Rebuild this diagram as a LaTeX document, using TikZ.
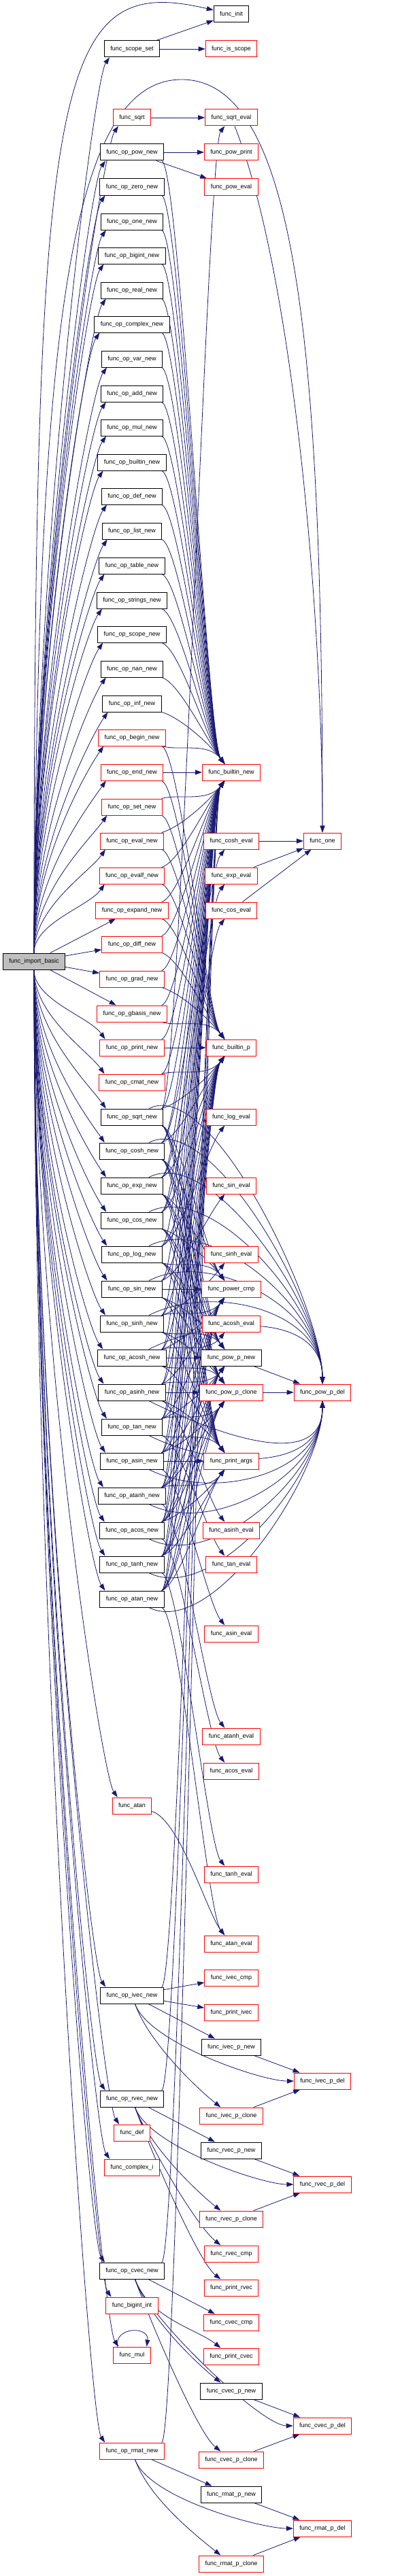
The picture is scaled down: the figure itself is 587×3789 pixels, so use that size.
\documentclass[tikz,border=0pt]{standalone}
\usepackage{fontspec}
\setmainfont{Liberation Sans}
\usetikzlibrary{arrows.meta,backgrounds}
\definecolor{edgeblue}{HTML}{191970}
\definecolor{boxred}{HTML}{FF0000}
\definecolor{rootgray}{HTML}{BFBFBF}
\begin{document}
\begin{tikzpicture}[x=1pt,y=1pt,
	fn/.style={draw=black,fill=white,line width=1pt,minimum height=24pt,inner xsep=9pt,font=\fontsize{9}{11}\selectfont},
	cut/.style={fn,draw=boxred},
	call/.style={draw=edgeblue,line width=0.8pt,-{Triangle[length=10pt,width=7pt]}},
	dn/.style={to path={.. controls ([shift={(70,-20)}]\tikztostart) and ([shift={(-35,45)}]\tikztotarget) .. (\tikztotarget)}},
	upw/.style={to path={.. controls ([shift={(70,20)}]\tikztostart) and ([shift={(-35,-45)}]\tikztotarget) .. (\tikztotarget)}},
	arcup/.style={to path={.. controls ([shift={(120,60)}]\tikztostart) and ([shift={(0,120)}]\tikztotarget) .. (\tikztotarget)}},
	arcdn/.style={to path={.. controls ([shift={(120,-60)}]\tikztostart) and ([shift={(0,-120)}]\tikztotarget) .. (\tikztotarget)}},
	fan/.style={to path={.. controls ([shift={(25,-70)}]\tikztostart) and ([shift={(-50,40)}]\tikztotarget) .. (\tikztotarget)}},
	fandel/.style={to path={.. controls ([shift={(25,-70)}]\tikztostart) and ([shift={(-90,0)}]\tikztotarget) .. (\tikztotarget)}}]
	\useasboundingbox (0,0) rectangle (587,-3789);

	\node[fn,fill=rootgray] (ib) at (50,-1414) {func\_import\_basic};

	% second column
	\foreach \n/\y/\t in {scopeset/72/scope\_set,oppow/224/op\_pow\_new,opzero/275/op\_zero\_new,
		opone/326/op\_one\_new,opbigint/376/op\_bigint\_new,opreal/427/op\_real\_new,
		opcomplex/477/op\_complex\_new,opvar/528/op\_var\_new,opadd/579/op\_add\_new,
		opmul/629/op\_mul\_new,opbuiltin/680/op\_builtin\_new,opdef/730/op\_def\_new,
		oplist/781/op\_list\_new,optable/832/op\_table\_new,opstrings/883/op\_strings\_new,
		opscope/933/op\_scope\_new,opnan/984/op\_nan\_new,opinf/1035/op\_inf\_new,
		opsqrt/1643/op\_sqrt\_new,opcosh/1693/op\_cosh\_new,opexp/1744/op\_exp\_new,
		opcos/1795/op\_cos\_new,oplog/1845/op\_log\_new,opsin/1896/op\_sin\_new,
		opsinh/1947/op\_sinh\_new,opacosh/1997/op\_acosh\_new,opasinh/2048/op\_asinh\_new,
		optan/2099/op\_tan\_new,opasin/2149/op\_asin\_new,opatanh/2200/op\_atanh\_new,
		opacos/2251/op\_acos\_new,optanh/2301/op\_tanh\_new,opatan/2352/op\_atan\_new,
		opivec/2935/op\_ivec\_new,oprvec/3087/op\_rvec\_new,opcvec/3340/op\_cvec\_new}
	\node[fn] (\n) at (194,-\y) {func\_\t};
	\foreach \n/\y/\t in {sqrt/173/sqrt,opbegin/1085/op\_begin\_new,opend/1136/op\_end\_new,
		opset/1187/op\_set\_new,opeval/1237/op\_eval\_new,opevalf/1288/op\_evalf\_new,
		opexpand/1339/op\_expand\_new,opdiff/1389/op\_diff\_new,opgrad/1440/op\_grad\_new,
		opgbasis/1491/op\_gbasis\_new,opprint/1541/op\_print\_new,opcmat/1592/op\_cmat\_new,
		atan/2656/atan,def/3137/def,complexi/3188/complex\_i,bigintint/3391/bigint\_int,
		mul/3464/mul,oprmat/3605/op\_rmat\_new}
	\node[cut] (\n) at (194,-\y) {func\_\t};

	% third column
	\foreach \n/\y/\t in {init/21/init,powpnew/1997/pow\_p\_new,newivec/3011/ivec\_p\_new,
		newrvec/3163/rvec\_p\_new,newcvec/3517/cvec\_p\_new,newrmat/3669/rmat\_p\_new}
	\node[fn] (\n) at (340,-\y) {func\_\t};
	\foreach \n/\y/\t in {isscope/72/is\_scope,sqrteval/173/sqrt\_eval,powprint/224/pow\_print,
		poweval/275/pow\_eval,bnew/1136/builtin\_new,cosheval/1237/cosh\_eval,
		expeval/1288/exp\_eval,coseval/1339/cos\_eval,bp/1541/builtin\_p,
		logeval/1643/log\_eval,sineval/1744/sin\_eval,sinheval/1845/sinh\_eval,
		powercmp/1896/power\_cmp,acosheval/1947/acosh\_eval,powpclone/2048/pow\_p\_clone,
		printargs/2149/print\_args,asinheval/2251/asinh\_eval,taneval/2301/tan\_eval,
		asineval/2403/asin\_eval,atanheval/2554/atanh\_eval,acoseval/2605/acos\_eval,
		tanheval/2757/tanh\_eval,ataneval/2859/atan\_eval,cmpivec/2909/ivec\_cmp,
		printivec/2960/print\_ivec,cloneivec/3112/ivec\_p\_clone,clonervec/3264/rvec\_p\_clone,
		cmprvec/3315/rvec\_cmp,printrvec/3365/print\_rvec,cmpcvec/3416/cvec\_cmp,
		printcvec/3466/print\_cvec,clonecvec/3618/cvec\_p\_clone,clonermat/3771/rmat\_p\_clone}
	\node[cut] (\n) at (340,-\y) {func\_\t};

	% fourth column
	\foreach \n/\y/\t in {one/1237/one,powpdel/2048/pow\_p\_del,delivec/3061/ivec\_p\_del,
		delrvec/3213/rvec\_p\_del,delcvec/3568/cvec\_p\_del,delrmat/3719/rmat\_p\_del}
	\node[cut] (\n) at (474,-\y) {func\_\t};

	\begin{scope}[on background layer]
	% calls of func_import_basic
	\draw[call] (ib) .. controls (50,-100) and (80,40) .. (init);
	\draw[call] (ib) .. controls (55,-500) and (100,-117) .. (267,-117)
		.. controls (434,-117) and (474,-500) .. (one);
	\foreach \t/\y in {scopeset/72,sqrt/173,oppow/224,opzero/275,opone/326,opbigint/376,
		opreal/427,opcomplex/477,opvar/528,opadd/579,opmul/629,opbuiltin/680,opdef/730,
		oplist/781,optable/832,opstrings/883,opscope/933,opnan/984,opinf/1035,opbegin/1085,
		opend/1136,opset/1187,opeval/1237,opevalf/1288}
	\draw[call] (ib) .. controls ([yshift={0.45*(1414-\y)}]ib.center) and ([shift={(-15,-33)}]\t.south west) .. ([xshift=8pt]\t.south west);
	\foreach \t in {opexpand,opdiff,opgrad,opgbasis}
	\draw[call] (ib) -- (\t);
	\foreach \t/\y in {opprint/1541,opcmat/1592,opsqrt/1643,opcosh/1693,opexp/1744,opcos/1795,
		oplog/1845,opsin/1896,opsinh/1947,opacosh/1997,opasinh/2048,optan/2099,opasin/2149,
		opatanh/2200,opacos/2251,optanh/2301,opatan/2352,atan/2656,opivec/2935,oprvec/3087,
		def/3137,complexi/3188,opcvec/3340,bigintint/3391,mul/3464,oprmat/3605}
	\draw[call] (ib) .. controls ([yshift={-0.45*(\y-1414)}]ib.center) and ([shift={(-15,33)}]\t.north west) .. ([xshift=8pt]\t.north west);

	% top of the graph
	\draw[call] (scopeset) -- (init);
	\draw[call] (scopeset) -- (isscope);
	\draw[call] (sqrt) -- (sqrteval);
	\draw[call] (oppow) -- (powprint);
	\draw[call] (oppow) -- (poweval);
	\draw[call] (sqrteval) .. controls (430,-400) and (474,-900) .. (one);
	\foreach \s in {cosheval,expeval,coseval}
	\draw[call] (\s) -- (one);

	% builtin_new and builtin_p
	\foreach \s in {oppow,opzero,opone,opbigint,opreal,opcomplex,opvar,opadd,opmul,opbuiltin,
		opdef,oplist,optable,opstrings,opscope,opnan,opinf,opbegin}
	\draw[call] (\s) to[dn] (bnew);
	\draw[call] (opend) -- (bnew);
	\foreach \s in {opset,opeval,opevalf,opexpand,opdiff,opgrad,opgbasis,opprint,opcmat,
		opsqrt,opcosh,opexp,opcos,oplog,opsin,opsinh,opacosh,opasinh,optan,opasin,opatanh,
		opacos,optanh,opatan,opivec,oprvec,opcvec,oprmat}
	\draw[call] (\s) to[upw] (bnew);
	\foreach \s in {opbegin,opend,opset,opeval,opevalf,opexpand,opdiff,opgrad,opgbasis}
	\draw[call] (\s) to[dn] (bp);
	\draw[call] (opprint) -- (bp);
	\foreach \s in {opcmat,opsqrt,opcosh,opexp,opcos,oplog,opsin,opsinh,opacosh,opasinh,
		optan,opasin,opatanh,opacos,optanh,opatan}
	\draw[call] (\s) to[upw] (bp);

	% power helpers
	\foreach \s in {opsqrt,opcosh,opexp,opcos,oplog}
	\draw[call] (\s) to[dn] (powercmp);
	\draw[call] (opsin) -- (powercmp);
	\foreach \s in {opsinh,opacosh,opasinh,optan,opasin,opatanh,opacos,optanh,opatan}
	\draw[call] (\s) to[upw] (powercmp);
	\foreach \s in {opsqrt,opcosh,opexp,opcos,oplog,opsin,opsinh}
	\draw[call] (\s) to[dn] (powpnew);
	\draw[call] (opacosh) -- (powpnew);
	\foreach \s in {opasinh,optan,opasin,opatanh,opacos,optanh,opatan}
	\draw[call] (\s) to[upw] (powpnew);
	\foreach \s in {opsqrt,opcosh,opexp,opcos,oplog,opsin,opsinh,opacosh}
	\draw[call] (\s) to[dn] (powpclone);
	\draw[call] (opasinh) -- (powpclone);
	\foreach \s in {optan,opasin,opatanh,opacos,optanh,opatan}
	\draw[call] (\s) to[upw] (powpclone);
	\foreach \s in {opsqrt,opcosh,opexp,opcos,oplog,opsin,opsinh,opacosh,opasinh,optan}
	\draw[call] (\s) to[dn] (printargs);
	\draw[call] (opasin) -- (printargs);
	\foreach \s in {opatanh,opacos,optanh,opatan}
	\draw[call] (\s) to[upw] (printargs);
	\foreach \s in {opsqrt,opcosh,opexp,opcos,oplog,opsin,opsinh,opacosh}
	\draw[call] (\s) to[arcup] (powpdel);
	\foreach \s in {opasinh,optan,opasin,opatanh,opacos,optanh,opatan}
	\draw[call] (\s) to[arcdn] (powpdel);
	\draw[call] (powpnew) -- (powpdel);
	\draw[call] (powpclone) -- (powpdel);

	% evaluators
	\foreach \s/\t in {opsqrt/sqrteval,opcosh/cosheval,opexp/expeval,opcos/coseval,
		oplog/logeval,opsin/sineval,opsinh/sinheval,opacosh/acosheval}
	\draw[call] (\s) to[upw] (\t);
	\foreach \s/\t in {opasinh/asinheval,optan/taneval,opasin/asineval,opatanh/atanheval,
		opacos/acoseval,optanh/tanheval,opatan/ataneval,atan/ataneval}
	\draw[call] (\s) to[dn] (\t);

	% vectors and matrices
	\foreach \v in {ivec,rvec,cvec,rmat}{
		\draw[call] (op\v) to[fandel] (del\v);
		\draw[call] (op\v) to[fan] (clone\v);
		\draw[call] (new\v) -- (del\v);
		\draw[call] (clone\v) -- (del\v);
	}
	\draw[call] (opivec) -- (newivec);
	\draw[call] (oprvec) -- (newrvec);
	\draw[call] (opcvec) to[fan] (newcvec);
	\draw[call] (oprmat) -- (newrmat);
	\draw[call] (opivec) -- (cmpivec);
	\draw[call] (opivec) -- (printivec);
	\draw[call] (oprvec) to[fan] (cmprvec);
	\draw[call] (oprvec) to[fan] (printrvec);
	\draw[call] (opcvec) -- (cmpcvec);
	\draw[call] (opcvec) to[fan] (printcvec);
	\draw[call] (mul.150) .. controls ([shift={(-4,30)}]mul.150) and ([shift={(4,30)}]mul.30) .. (mul.30);
	\end{scope}
\end{tikzpicture}
\end{document}
